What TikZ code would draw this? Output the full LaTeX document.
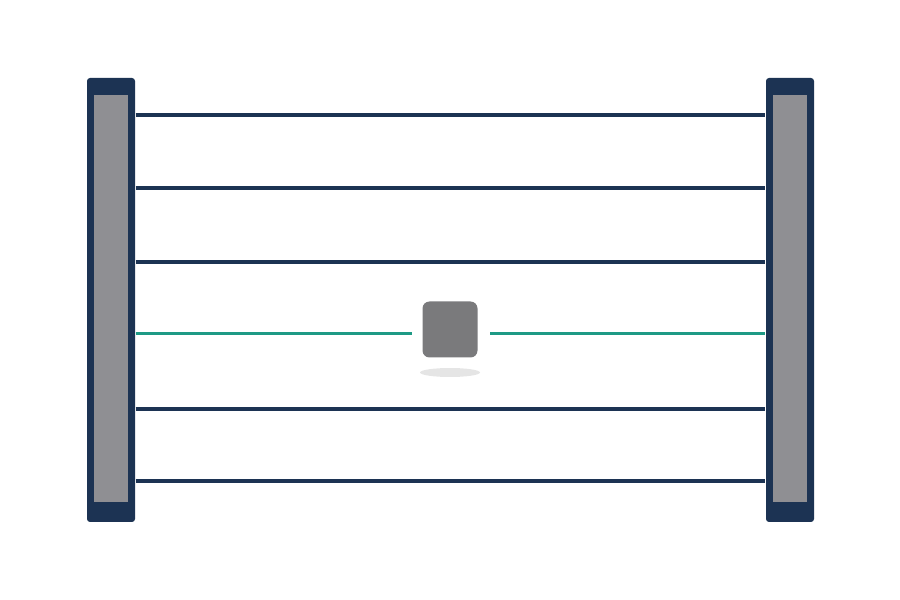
\documentclass[tikz,border=0pt]{standalone}
\usepackage{tikz}
\usetikzlibrary{positioning}
\definecolor{navy}{HTML}{1C3353}
\definecolor{postgray}{HTML}{8F8F93}
\definecolor{boxgray}{HTML}{7A7A7C}
\definecolor{beamgreen}{HTML}{1E9A85}

\begin{document}
\begin{tikzpicture}[x=1cm,y=1cm,
    postframe/.style={rectangle,fill=navy,rounded corners=0.03cm,minimum width=0.48cm,minimum height=4.44cm,inner sep=0pt},
    postcore/.style={rectangle,fill=postgray,minimum width=0.34cm,minimum height=4.07cm,inner sep=0pt},
    wire/.style={navy,line width=0.9pt},
    beam/.style={beamgreen,line width=1.1pt}]
            \useasboundingbox (0,0) rectangle (9,6);
            \node[postframe] (postL) at (1.11,3) {};
            \node[postcore] (coreL) at (1.11,3.015) {};
            \node[postframe] (postR) at (7.90,3) {};
            \node[postcore] (coreR) at (7.895,3.015) {};
            \foreach \y in {4.85,4.12,3.38,1.91,1.19}
                \draw[wire] (postL.east |- 0,\y) -- (postR.west |- 0,\y);
            \fill[gray!20] (4.50,2.275) ellipse (0.30cm and 0.045cm);
            \node[rectangle,fill=boxgray,rounded corners=0.07cm,minimum width=0.55cm,minimum height=0.56cm,inner sep=0pt] (sensor) at (4.50,2.705) {};
            \draw[beam] (postL.east |- 0,2.665) -- ([xshift=-0.1cm]sensor.west |- 0,2.665);
            \draw[beam] ([xshift=0.12cm]sensor.east |- 0,2.665) -- (postR.west |- 0,2.665);
        \end{tikzpicture}
\end{document}
